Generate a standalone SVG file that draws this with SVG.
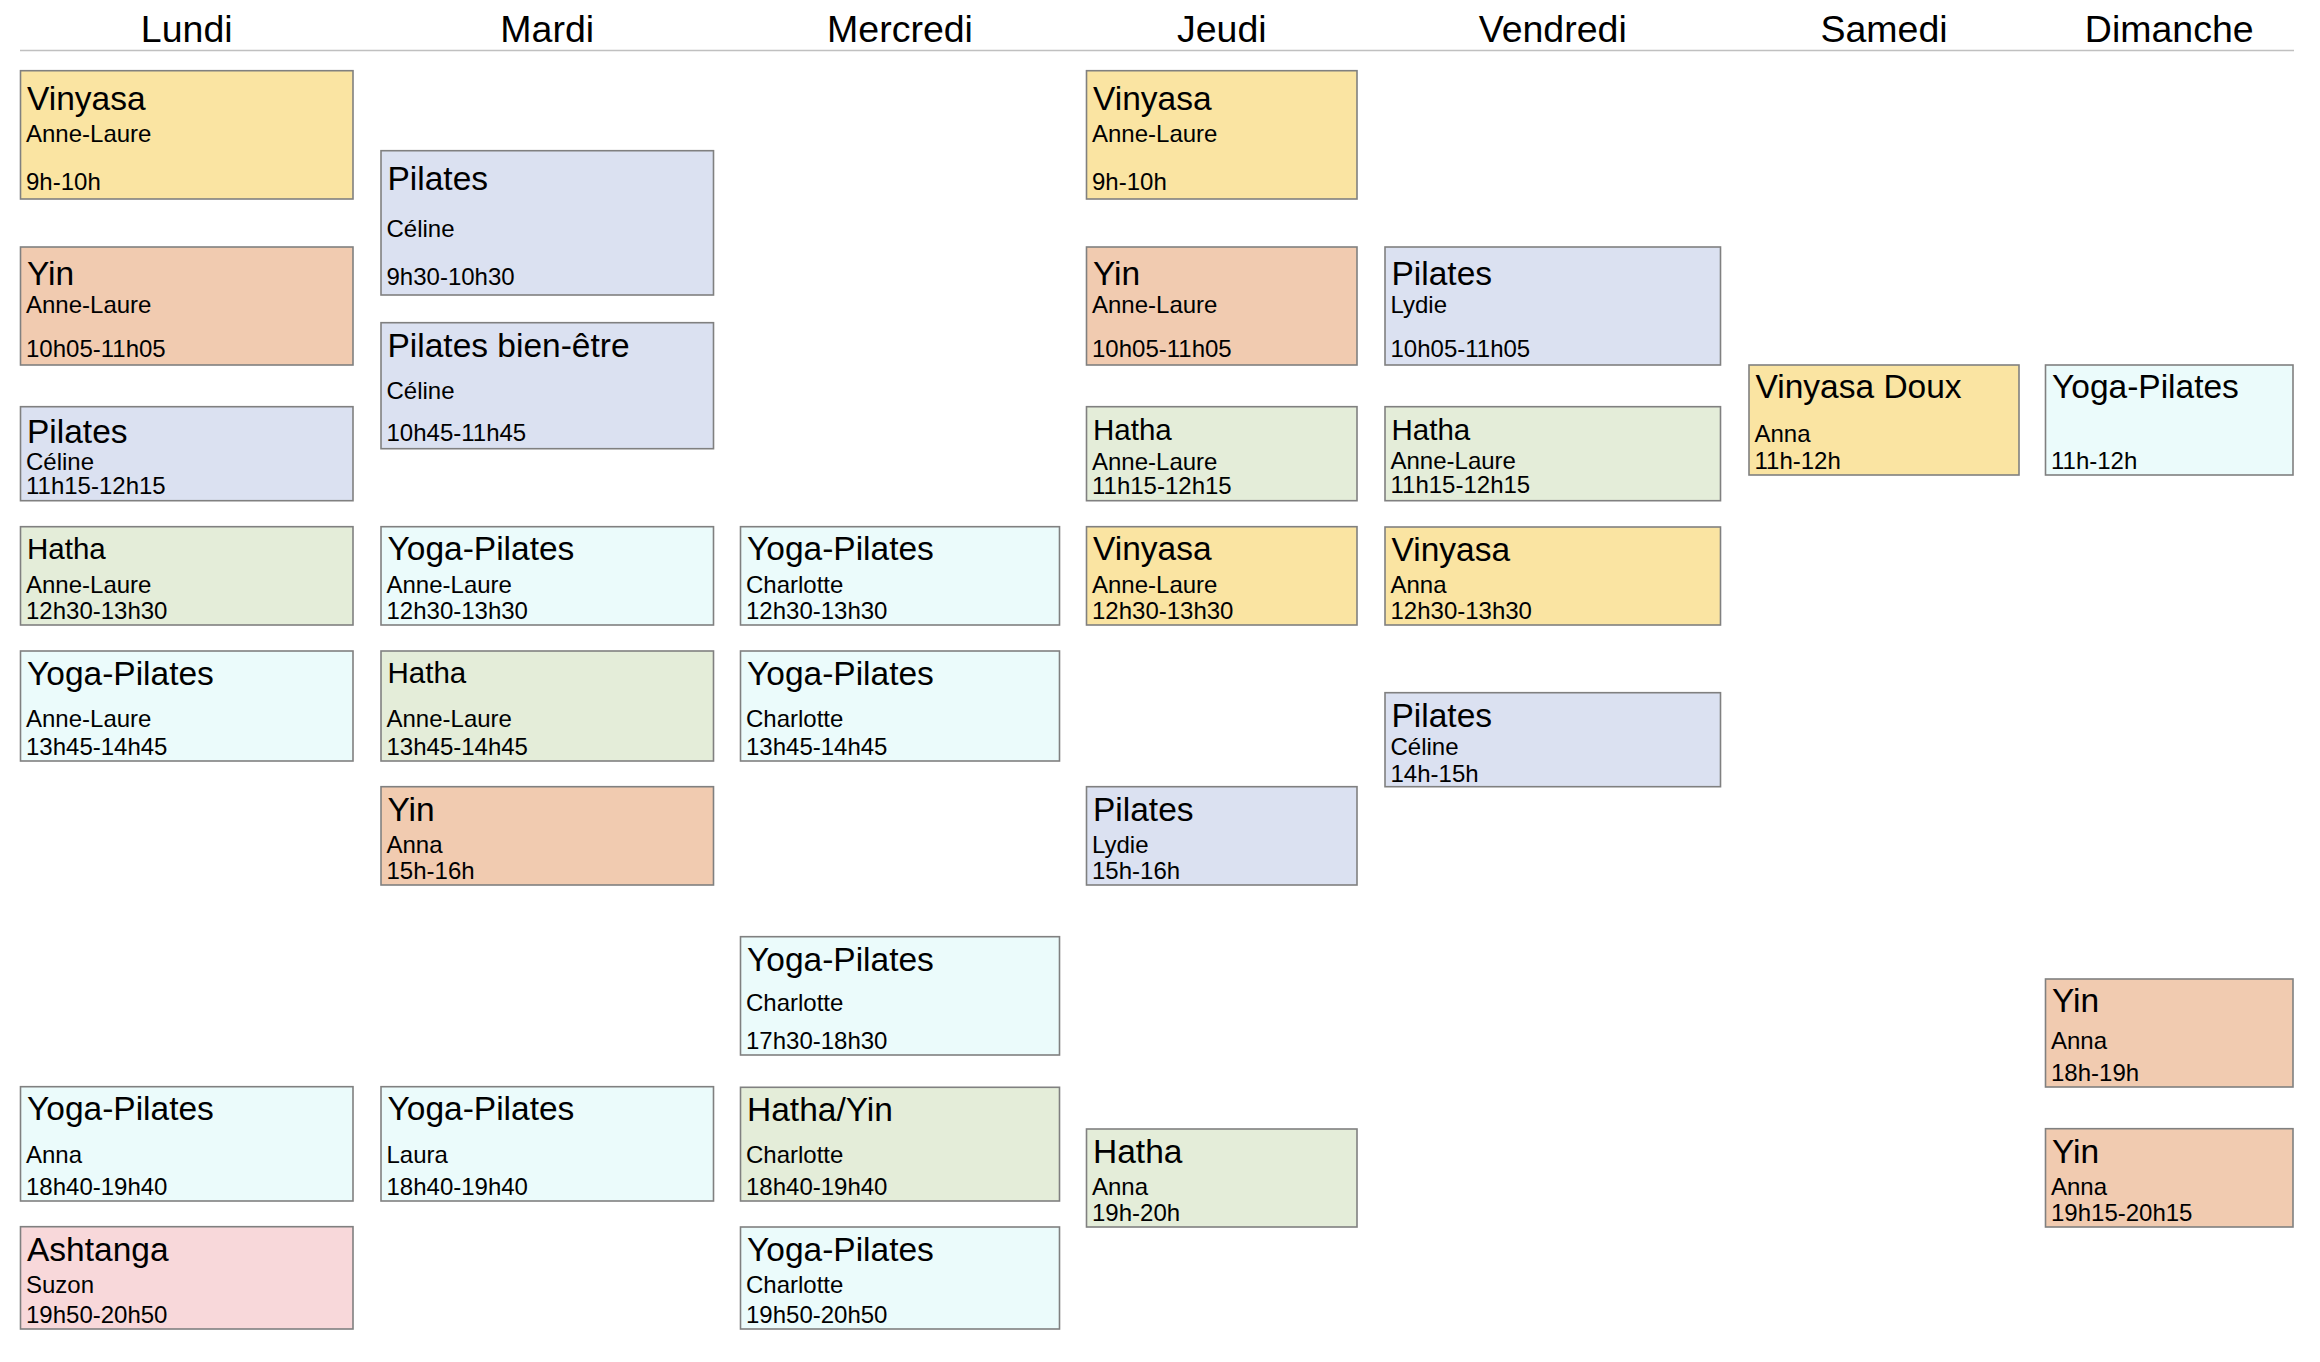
<svg xmlns="http://www.w3.org/2000/svg" width="2320" height="1362" viewBox="0 0 2320 1362">
<style>
  text { font-family: "Liberation Sans", Arial, Helvetica, sans-serif; fill: #000; }
  .hd { font-size: 37.5px; text-anchor: middle; }
  .t { font-size: 33.5px; }
  .ts { font-size: 29.5px; }
  .s { font-size: 24px; }
  .box { stroke: #808080; stroke-width: 1.6; }
  .vin { fill: #FAE4A2; }
  .yin { fill: #F1CBB0; }
  .pil { fill: #DBE1F1; }
  .hat { fill: #E4EDD9; }
  .yp  { fill: #EBFBFB; }
  .ash { fill: #F8D8DA; }
</style>
<g id="header">
  <line x1="20" y1="50.5" x2="2294" y2="50.5" stroke="#C0C0C0" stroke-width="1.6"/>
  <text class="hd" x="186.75" y="41.5">Lundi</text>
  <text class="hd" x="547.25" y="41.5">Mardi</text>
  <text class="hd" x="900" y="41.5">Mercredi</text>
  <text class="hd" x="1221.75" y="41.5">Jeudi</text>
  <text class="hd" x="1552.75" y="41.5">Vendredi</text>
  <text class="hd" x="1884" y="41.5">Samedi</text>
  <text class="hd" x="2169.25" y="41.5">Dimanche</text>
</g>
<g id="connectors"></g>

<!-- Lundi -->
<g id="lun-1"><rect class="box vin" x="20.5" y="70.7" width="332.5" height="128.3"/>
  <text class="t" x="27" y="110">Vinyasa</text><text class="s" x="26" y="141.7">Anne-Laure</text><text class="s" x="26" y="190">9h-10h</text></g>
<g id="lun-2"><rect class="box yin" x="20.5" y="247" width="332.5" height="118"/>
  <text class="t" x="27" y="285">Yin</text><text class="s" x="26" y="313.3">Anne-Laure</text><text class="s" x="26" y="357.3">10h05-11h05</text></g>
<g id="lun-3"><rect class="box pil" x="20.5" y="406.7" width="332.5" height="94"/>
  <text class="t" x="27" y="443">Pilates</text><text class="s" x="26" y="470">Céline</text><text class="s" x="26" y="494.3">11h15-12h15</text></g>
<g id="lun-4"><rect class="box hat" x="20.5" y="526.7" width="332.5" height="98.3"/>
  <text class="ts" x="27" y="559.3">Hatha</text><text class="s" x="26" y="593.3">Anne-Laure</text><text class="s" x="26" y="619">12h30-13h30</text></g>
<g id="lun-5"><rect class="box yp" x="20.5" y="651" width="332.5" height="110"/>
  <text class="t" x="27" y="685">Yoga-Pilates</text><text class="s" x="26" y="726.7">Anne-Laure</text><text class="s" x="26" y="755">13h45-14h45</text></g>
<g id="lun-6"><rect class="box yp" x="20.5" y="1086.7" width="332.5" height="114.3"/>
  <text class="t" x="27" y="1120">Yoga-Pilates</text><text class="s" x="26" y="1163.3">Anna</text><text class="s" x="26" y="1195">18h40-19h40</text></g>
<g id="lun-7"><rect class="box ash" x="20.5" y="1226.7" width="332.5" height="102.3"/>
  <text class="t" x="27" y="1261">Ashtanga</text><text class="s" x="26" y="1293.3">Suzon</text><text class="s" x="26" y="1323.3">19h50-20h50</text></g>

<!-- Mardi -->
<g id="mar-1"><rect class="box pil" x="381" y="150.7" width="332.5" height="144.3"/>
  <text class="t" x="387.5" y="190">Pilates</text><text class="s" x="386.5" y="237.3">Céline</text><text class="s" x="386.5" y="285">9h30-10h30</text></g>
<g id="mar-2"><rect class="box pil" x="381" y="322.7" width="332.5" height="126"/>
  <text class="t" x="387.5" y="357.3">Pilates bien-être</text><text class="s" x="386.5" y="398.7">Céline</text><text class="s" x="386.5" y="440.7">10h45-11h45</text></g>
<g id="mar-3"><rect class="box yp" x="381" y="526.7" width="332.5" height="98.3"/>
  <text class="t" x="387.5" y="560">Yoga-Pilates</text><text class="s" x="386.5" y="593.3">Anne-Laure</text><text class="s" x="386.5" y="619">12h30-13h30</text></g>
<g id="mar-4"><rect class="box hat" x="381" y="651" width="332.5" height="110"/>
  <text class="ts" x="387.5" y="683.3">Hatha</text><text class="s" x="386.5" y="726.7">Anne-Laure</text><text class="s" x="386.5" y="755">13h45-14h45</text></g>
<g id="mar-5"><rect class="box yin" x="381" y="786.7" width="332.5" height="98.3"/>
  <text class="t" x="387.5" y="820.7">Yin</text><text class="s" x="386.5" y="853.3">Anna</text><text class="s" x="386.5" y="879">15h-16h</text></g>
<g id="mar-6"><rect class="box yp" x="381" y="1086.7" width="332.5" height="114.3"/>
  <text class="t" x="387.5" y="1120">Yoga-Pilates</text><text class="s" x="386.5" y="1163.3">Laura</text><text class="s" x="386.5" y="1195">18h40-19h40</text></g>

<!-- Mercredi -->
<g id="mer-1"><rect class="box yp" x="740.5" y="526.7" width="319" height="98.3"/>
  <text class="t" x="747" y="560">Yoga-Pilates</text><text class="s" x="746" y="593.3">Charlotte</text><text class="s" x="746" y="619">12h30-13h30</text></g>
<g id="mer-2"><rect class="box yp" x="740.5" y="651" width="319" height="110"/>
  <text class="t" x="747" y="685">Yoga-Pilates</text><text class="s" x="746" y="726.7">Charlotte</text><text class="s" x="746" y="755">13h45-14h45</text></g>
<g id="mer-3"><rect class="box yp" x="740.5" y="936.7" width="319" height="118.3"/>
  <text class="t" x="747" y="971">Yoga-Pilates</text><text class="s" x="746" y="1011">Charlotte</text><text class="s" x="746" y="1049">17h30-18h30</text></g>
<g id="mer-4"><rect class="box hat" x="740.5" y="1087.3" width="319" height="113.7"/>
  <text class="t" x="747" y="1121">Hatha/Yin</text><text class="s" x="746" y="1163.3">Charlotte</text><text class="s" x="746" y="1195">18h40-19h40</text></g>
<g id="mer-5"><rect class="box yp" x="740.5" y="1227" width="319" height="102"/>
  <text class="t" x="747" y="1261">Yoga-Pilates</text><text class="s" x="746" y="1293.3">Charlotte</text><text class="s" x="746" y="1323.3">19h50-20h50</text></g>

<!-- Jeudi -->
<g id="jeu-1"><rect class="box vin" x="1086.5" y="70.7" width="270.5" height="128.3"/>
  <text class="t" x="1093" y="110">Vinyasa</text><text class="s" x="1092" y="141.7">Anne-Laure</text><text class="s" x="1092" y="190">9h-10h</text></g>
<g id="jeu-2"><rect class="box yin" x="1086.5" y="247" width="270.5" height="118"/>
  <text class="t" x="1093" y="285">Yin</text><text class="s" x="1092" y="313.3">Anne-Laure</text><text class="s" x="1092" y="357.3">10h05-11h05</text></g>
<g id="jeu-3"><rect class="box hat" x="1086.5" y="406.7" width="270.5" height="94"/>
  <text class="ts" x="1093" y="440">Hatha</text><text class="s" x="1092" y="470">Anne-Laure</text><text class="s" x="1092" y="494.3">11h15-12h15</text></g>
<g id="jeu-4"><rect class="box vin" x="1086.5" y="526.7" width="270.5" height="98.3"/>
  <text class="t" x="1093" y="560">Vinyasa</text><text class="s" x="1092" y="593.3">Anne-Laure</text><text class="s" x="1092" y="619">12h30-13h30</text></g>
<g id="jeu-5"><rect class="box pil" x="1086.5" y="786.7" width="270.5" height="98.3"/>
  <text class="t" x="1093" y="821">Pilates</text><text class="s" x="1092" y="853.3">Lydie</text><text class="s" x="1092" y="879">15h-16h</text></g>
<g id="jeu-6"><rect class="box hat" x="1086.5" y="1129" width="270.5" height="98"/>
  <text class="t" x="1093" y="1163.3">Hatha</text><text class="s" x="1092" y="1195">Anna</text><text class="s" x="1092" y="1221">19h-20h</text></g>

<!-- Vendredi -->
<g id="ven-1"><rect class="box pil" x="1385" y="247" width="335.5" height="118"/>
  <text class="t" x="1391.5" y="285">Pilates</text><text class="s" x="1390.5" y="313">Lydie</text><text class="s" x="1390.5" y="357">10h05-11h05</text></g>
<g id="ven-2"><rect class="box hat" x="1385" y="406.7" width="335.5" height="94"/>
  <text class="ts" x="1391.5" y="440">Hatha</text><text class="s" x="1390.5" y="469">Anne-Laure</text><text class="s" x="1390.5" y="493.3">11h15-12h15</text></g>
<g id="ven-3"><rect class="box vin" x="1385" y="527" width="335.5" height="98"/>
  <text class="t" x="1391.5" y="561">Vinyasa</text><text class="s" x="1390.5" y="593.3">Anna</text><text class="s" x="1390.5" y="619.3">12h30-13h30</text></g>
<g id="ven-4"><rect class="box pil" x="1385" y="692.7" width="335.5" height="94"/>
  <text class="t" x="1391.5" y="726.7">Pilates</text><text class="s" x="1390.5" y="755">Céline</text><text class="s" x="1390.5" y="781.7">14h-15h</text></g>

<!-- Samedi -->
<g id="sam-1"><rect class="box vin" x="1749" y="365" width="270" height="110"/>
  <text class="t" x="1755.5" y="398.3">Vinyasa Doux</text><text class="s" x="1754.5" y="441.7">Anna</text><text class="s" x="1754.5" y="469.3">11h-12h</text></g>

<!-- Dimanche -->
<g id="dim-1"><rect class="box yp" x="2045.5" y="365" width="247.5" height="110"/>
  <text class="t" x="2052" y="398.3">Yoga-Pilates</text><text class="s" x="2051" y="469.3">11h-12h</text></g>
<g id="dim-2"><rect class="box yin" x="2045.5" y="979" width="247.5" height="108"/>
  <text class="t" x="2052" y="1011.7">Yin</text><text class="s" x="2051" y="1049.3">Anna</text><text class="s" x="2051" y="1081">18h-19h</text></g>
<g id="dim-3"><rect class="box yin" x="2045.5" y="1128.7" width="247.5" height="98.3"/>
  <text class="t" x="2052" y="1163.3">Yin</text><text class="s" x="2051" y="1195">Anna</text><text class="s" x="2051" y="1221">19h15-20h15</text></g>
</svg>
